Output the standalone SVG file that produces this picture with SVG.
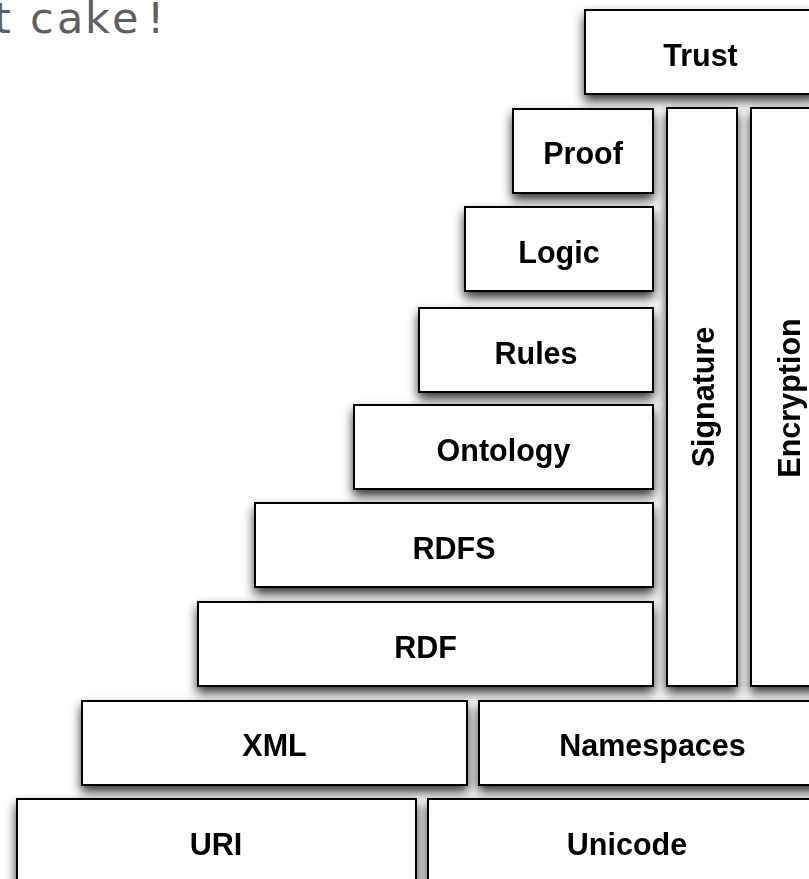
<svg xmlns="http://www.w3.org/2000/svg" width="809" height="879" viewBox="0 0 809 879">
  <defs>
    <filter id="shadow" filterUnits="userSpaceOnUse" x="-60" y="-60" width="960" height="1020">
      <feDropShadow dx="0" dy="6" stdDeviation="5.5" flood-color="#000" flood-opacity="0.8"/>
    </filter>
  </defs>
  <style>
    .box rect { fill: #fff; stroke: #000; stroke-width: 2; }
    .box text { font-family: "Liberation Sans", Arial, Helvetica, sans-serif; font-weight: bold; font-size: 30.5px; fill: #000; text-anchor: middle; }
    .title { font-family: "DejaVu Sans", Verdana, sans-serif; font-size: 43px; fill: #5f5f5f; }
  </style>
  <rect width="809" height="879" fill="#fff"/>

  <!-- heading, partly off the left edge -->
  <text class="title" x="-6" y="33">t <tspan x="30">c</tspan><tspan x="57">a</tspan><tspan x="85">k</tspan><tspan x="112">e</tspan><tspan x="147">!</tspan></text>

  <!-- layer stack -->
  <g id="layers" filter="url(#shadow)">
    <g id="trust" class="box"><rect x="585" y="10" width="231" height="84"/><text x="700.5" y="66">Trust</text></g>
    <g id="proof" class="box"><rect x="513" y="109" width="140" height="84"/><text x="583" y="164">Proof</text></g>
    <g id="signature" class="box"><rect x="667" y="108" width="70" height="578"/><text transform="translate(714 397) rotate(-90)">Signature</text></g>
    <g id="encryption" class="box"><rect x="751" y="108" width="72" height="578"/><text transform="translate(800 398) rotate(-90)">Encryption</text></g>
    <g id="logic" class="box"><rect x="465" y="207" width="188" height="84"/><text x="559" y="263">Logic</text></g>
    <g id="rules" class="box"><rect x="419" y="308" width="234" height="84"/><text x="536" y="364">Rules</text></g>
    <g id="ontology" class="box"><rect x="354" y="405" width="299" height="84"/><text x="503.5" y="461">Ontology</text></g>
    <g id="rdfs" class="box"><rect x="255" y="503" width="398" height="84"/><text x="454" y="559">RDFS</text></g>
    <g id="rdf" class="box"><rect x="198" y="602" width="455" height="84"/><text x="425.5" y="658">RDF</text></g>
    <g id="xml" class="box"><rect x="82" y="701" width="385" height="84"/><text x="274.5" y="756">XML</text></g>
    <g id="namespaces" class="box"><rect x="479" y="701" width="347" height="84"/><text x="652.5" y="756">Namespaces</text></g>
    <g id="uri" class="box"><rect x="17" y="799" width="399" height="84"/><text x="216" y="855">URI</text></g>
    <g id="unicode" class="box"><rect x="428" y="799" width="398" height="84"/><text x="627" y="855">Unicode</text></g>
  </g>

  <!-- no connectors in this layered diagram -->
  <g id="connectors"/>
</svg>
